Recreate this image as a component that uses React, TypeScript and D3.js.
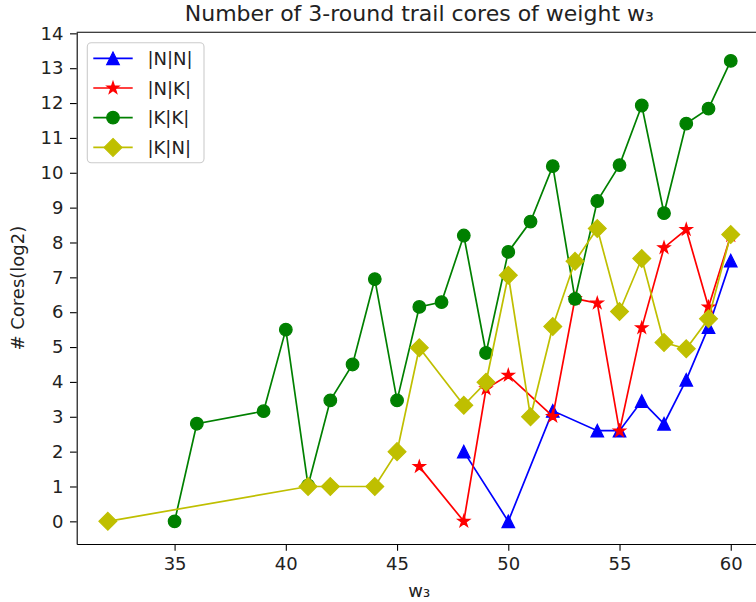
import React, { useEffect, useRef } from 'react';
import * as d3 from 'd3';

// w3 values and log2(#cores) for each trail type
const nnX = [48, 50, 52, 54, 55, 56, 57, 58, 59, 60];
const nnY = [2.0, 0, 3.17, 2.6, 2.6, 3.45, 2.8, 4.06, 5.57, 7.48];
const nkX = [46, 48, 49, 50, 52, 53, 54, 55, 56, 57, 58, 59, 60];
const nkY = [1.57, 0, 3.8, 4.19, 3.01, 6.39, 6.26, 2.59, 5.55, 7.85, 8.37, 6.15, 8.2];
const kkX = [35, 36, 39, 40, 41, 42, 43, 44, 45, 46, 47, 48, 49, 50, 51, 52, 53, 54, 55, 56, 57, 58, 59, 60];
const kkY = [0, 2.8, 3.16, 5.5, 1.03, 3.47, 4.5, 6.95, 3.47, 6.15, 6.29, 8.2, 4.83, 7.73, 8.6, 10.19, 6.38, 9.19, 10.22, 11.93, 8.84, 11.41, 11.84, 13.21];
const knX = [32, 41, 42, 44, 45, 46, 48, 49, 50, 51, 52, 53, 54, 55, 56, 57, 58, 59, 60];
const knY = [0, 1, 1, 1, 2, 4.98, 3.33, 3.99, 7.06, 3.0, 5.59, 7.46, 8.4, 6.02, 7.54, 5.13, 4.95, 5.81, 8.23];

const seriesNames = ['|N|N|', '|N|K|', '|K|K|', '|K|N|'];
const xTicks = [35, 40, 45, 50, 55, 60];
const yTicks = d3.range(0, 15);

const series = [
  { name: seriesNames[0], xs: nnX, ys: nnY, color: '#0000ff', marker: 'tri' },
  { name: seriesNames[1], xs: nkX, ys: nkY, color: '#ff0000', marker: 'star' },
  { name: seriesNames[2], xs: kkX, ys: kkY, color: '#008000', marker: 'circle' },
  { name: seriesNames[3], xs: knX, ys: knY, color: '#bfbf00', marker: 'diamond' },
];

const ms = 12.6; // marker size in px

const markerPath = (kind) => {
  const h = ms / 2;
  if (kind === 'tri') return `M0,${-h}L${-h},${h}L${h},${h}Z`;
  if (kind === 'diamond') {
    const d = h * Math.SQRT2;
    return `M0,${-d}L${d},0L0,${d}L${-d},0Z`;
  }
  if (kind === 'star') return d3.symbol(d3.symbolStar, (h * h) / 0.8908130915)();
  return d3.symbol(d3.symbolCircle, Math.PI * h * h)();
};

const App = () => {
  const svgRef = useRef();

  useEffect(() => {
    const svg = d3.select(svgRef.current);
    svg.selectAll('*').remove();

    const font = 'DejaVu Sans, sans-serif';
    const left = 76.7, right = 761.9, top = 32.3, bottom = 544;

    const x = d3.scaleLinear().domain([30.6, 61.4]).range([left, right]);
    const y = d3.scaleLinear().domain([-0.65, 14.03]).range([bottom, top]);

    const line = d3.line().x(d => x(d[0])).y(d => y(d[1]));

    series.forEach(s => {
      const pts = s.xs.map((v, i) => [v, s.ys[i]]);
      const g = svg.append('g');
      g.append('path')
        .attr('d', line(pts))
        .attr('fill', 'none')
        .attr('stroke', s.color)
        .attr('stroke-width', 1.7);
      g.selectAll('path.m')
        .data(pts)
        .enter()
        .append('path')
        .attr('class', 'm')
        .attr('d', markerPath(s.marker))
        .attr('transform', d => `translate(${x(d[0])},${y(d[1])})`)
        .attr('fill', s.color)
        .attr('stroke', s.color)
        .attr('stroke-width', 1.2);
    });

    // axes
    const xAxis = svg.append('g')
      .attr('transform', `translate(0,${bottom})`)
      .call(d3.axisBottom(x).tickValues(xTicks).tickSize(6.7).tickPadding(6.5).tickSizeOuter(0));
    const yAxis = svg.append('g')
      .attr('transform', `translate(${left},0)`)
      .call(d3.axisLeft(y).tickValues(yTicks).tickSize(6.7).tickPadding(6.5).tickSizeOuter(0));
    [xAxis, yAxis].forEach(a => {
      a.selectAll('path').attr('stroke', '#000').attr('stroke-width', 1.1);
      a.selectAll('line').attr('stroke', '#000').attr('stroke-width', 1.1);
      a.selectAll('text').style('font-family', font).style('font-size', '18px').attr('fill', '#222');
    });

    // remaining spines
    svg.append('line')
      .attr('x1', left).attr('x2', right).attr('y1', top).attr('y2', top)
      .attr('stroke', '#000').attr('stroke-width', 1.1);
    svg.append('line')
      .attr('x1', right).attr('x2', right).attr('y1', top).attr('y2', bottom)
      .attr('stroke', '#000').attr('stroke-width', 1.1);

    svg.append('text')
      .attr('x', (left + right) / 2)
      .attr('y', 21)
      .attr('text-anchor', 'middle')
      .style('font-family', font)
      .style('font-size', '22px')
      .attr('fill', '#222')
      .text('Number of 3-round trail cores of weight w₃');

    svg.append('text')
      .attr('x', (left + right) / 2)
      .attr('y', 597)
      .attr('text-anchor', 'middle')
      .style('font-family', font)
      .style('font-size', '18px')
      .attr('fill', '#222')
      .text('w₃');

    svg.append('text')
      .attr('transform', `translate(24,${(top + bottom) / 2}) rotate(-90)`)
      .attr('text-anchor', 'middle')
      .style('font-family', font)
      .style('font-size', '18px')
      .attr('fill', '#222')
      .text('# Cores(log2)');

    // legend
    const lg = svg.append('g');
    lg.append('rect')
      .attr('x', 87.3).attr('y', 42.7)
      .attr('width', 116.7).attr('height', 120)
      .attr('rx', 4)
      .attr('fill', 'rgba(255,255,255,0.8)')
      .attr('stroke', '#cccccc')
      .attr('stroke-width', 1.1);
    series.forEach((s, i) => {
      const ly = 58.3 + i * 29.7;
      lg.append('line')
        .attr('x1', 93.3).attr('x2', 132.7).attr('y1', ly).attr('y2', ly)
        .attr('stroke', s.color).attr('stroke-width', 1.7);
      lg.append('path')
        .attr('d', markerPath(s.marker))
        .attr('transform', `translate(113,${ly})`)
        .attr('fill', s.color).attr('stroke', s.color).attr('stroke-width', 1.2);
      lg.append('text')
        .attr('x', 147.5).attr('y', ly + 6.5)
        .style('font-family', font)
        .style('font-size', '18px')
        .attr('fill', '#222')
        .text(s.name);
    });
  }, []);

  return (
    <svg
      ref={svgRef}
      width={756}
      height={602}
      style={{ position: 'absolute', left: 0, top: 0, background: '#fff' }}
    ></svg>
  );
};

export default App;
